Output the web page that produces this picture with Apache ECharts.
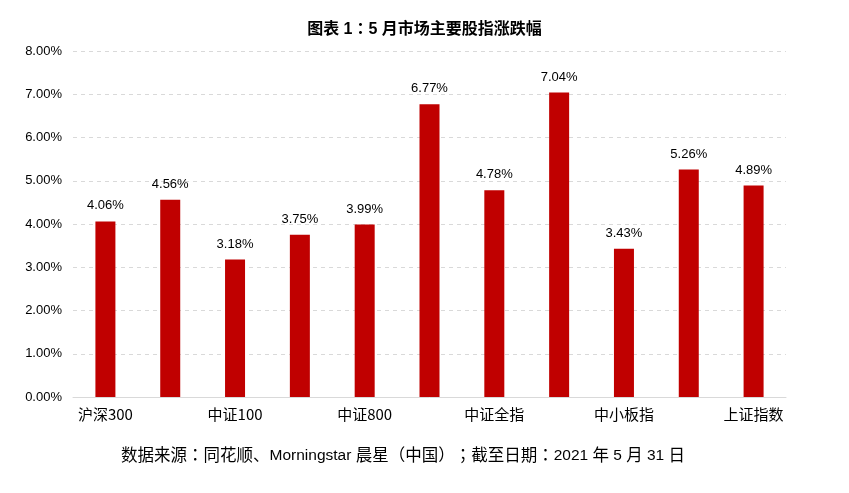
<!DOCTYPE html>
<html><head><meta charset="utf-8">
<script src="https://cdn.jsdelivr.net/npm/echarts@6/dist/echarts.min.js"></script>
<style>html,body{margin:0;padding:0;background:#fff}#c{width:849px;height:493px}</style>
</head><body><div id="c"></div>
<script>
const categories = ['沪深300','上证50','中证100','中证200','中证800','中证500','中证全指','中证1000','中小板指','深证成指','上证指数'];
const values = [4.06,4.56,3.18,3.75,3.99,6.77,4.78,7.04,3.43,5.26,4.89];
const yTicks = [0,1,2,3,4,5,6,7,8];
const titleText = '图表 1：5 月市场主要股指涨跌幅';
const sourceText = '数据来源：同花顺、Morningstar 晨星（中国）；截至日期：2021 年 5 月 31 日';

const cjk = '"Noto Sans CJK SC",sans-serif';
const cjkP = '"Noto Sans CJK TC","Noto Sans CJK SC",sans-serif';
const lat = '"Liberation Sans",Arial,sans-serif';
const mixed = '"Liberation Sans","Noto Sans CJK SC",sans-serif';
function toRich(s){
  return s.split(/([\x00-\x7F]+|[：；])/).filter(p=>p.length).map(p=>{
    if(/^[\x00-\x7F]+$/.test(p)) return '{l|'+p+'}';
    if(/^[：；]$/.test(p)) return '{p|'+p+'}';
    return '{c|'+p+'}';
  }).join('');
}
const chart = echarts.init(document.getElementById('c'), null, {renderer:'canvas'});
chart.setOption({
  animation:false,
  title:{text:toRich(titleText),left:'center',top:12,textStyle:{rich:{
    c:{fontSize:16,fontWeight:'bold',color:'#000',fontFamily:cjk,lineHeight:22},
    p:{fontSize:16,fontWeight:'bold',color:'#000',fontFamily:cjkP,lineHeight:22},
    l:{fontSize:16,fontWeight:'bold',color:'#000',fontFamily:lat,lineHeight:22,padding:[3,0,0,0]}}}},
  graphic:[{type:'text',left:121,top:445,style:{text:toRich(sourceText),
    rich:{c:{fontSize:16.5,lineHeight:22,fill:'#000',fontFamily:cjk},
          p:{fontSize:16.5,lineHeight:22,fill:'#000',fontFamily:cjkP},
          l:{fontSize:15.5,lineHeight:22,padding:[3,0,0,0],fill:'#000',fontFamily:lat}}}}],
  grid:{left:73,right:63,top:51,bottom:96,containLabel:false},
  xAxis:{type:'category',data:categories,
    axisLine:{lineStyle:{color:'#d9d9d9'}},axisTick:{show:false},
    axisLabel:{interval:1,margin:10,color:'#000',fontSize:15,fontFamily:cjk}},
  yAxis:{type:'value',min:yTicks[0],max:yTicks[yTicks.length-1],interval:1,
    axisLine:{show:false},axisTick:{show:false},
    splitLine:{lineStyle:{color:'#d9d9d9',type:[4,4]}},
    axisLabel:{color:'#000',fontSize:13,margin:11,fontFamily:lat,formatter:v=>v.toFixed(2)+'%'}},
  series:[{type:'bar',data:values,barWidth:20,itemStyle:{color:'#c00000'},
    label:{show:true,position:'top',distance:9,color:'#000',fontSize:13,fontFamily:lat,formatter:p=>p.value.toFixed(2)+'%'}}]
});
</script></body></html>
